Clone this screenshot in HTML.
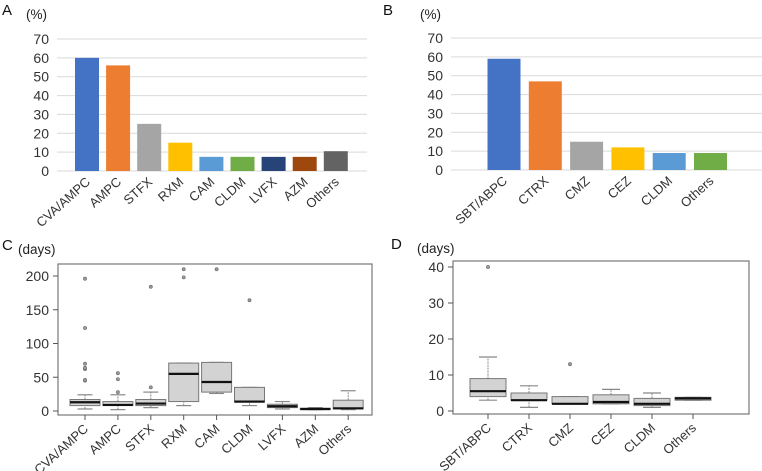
<!DOCTYPE html>
<html><head><meta charset="utf-8"><style>
html,body{margin:0;padding:0;background:#fff;}
svg{display:block;font-family:"Liberation Sans",Arial,sans-serif;}
</style></head><body>
<svg id="fig" width="762" height="471" viewBox="0 0 762 471" xmlns="http://www.w3.org/2000/svg"></svg>
<script>
// Panel A data
const catsA = ["CVA/AMPC","AMPC","STFX","RXM","CAM","CLDM","LVFX","AZM","Others"];
const valsA = [60,56,25,15,7.5,7.5,7.5,7.5,10.5];
const colorsA = ["#4472c4","#ed7d31","#a5a5a5","#ffc000","#5b9bd5","#70ad47","#264478","#9e480e","#636363"];
// Panel B data
const catsB = ["SBT/ABPC","CTRX","CMZ","CEZ","CLDM","Others"];
const valsB = [59,47,15,12,9,9];
const colorsB = ["#4472c4","#ed7d31","#a5a5a5","#ffc000","#5b9bd5","#70ad47"];
const ticksAB = [0,10,20,30,40,50,60,70];
// Panel C data: [whiskerLow, q1, median, q3, whiskerHigh]
const catsC = ["CVA/AMPC","AMPC","STFX","RXM","CAM","CLDM","LVFX","AZM","Others"];
const boxC = [[3,8,13,17,24],[2,8,9,14,24],[5,8,11,17,28],[8,14,55,71,71],[26,28,43,72,72],[8,13,14,35,35],[3,5,7,10,14],[2,2,3,4,5],[2,3,4,16,30]];
const outC = [[45,46,62,64,70,123,196],[28,47,56],[35,184],[198,210],[210],[164],[],[],[]];
const ticksC = [0,50,100,150,200];
// Panel D data
const catsD = ["SBT/ABPC","CTRX","CMZ","CEZ","CLDM","Others"];
const boxD = [[3,4,5.5,9,15],[1,3,3,5,7],[2,2,2,4,4],[2,2,2.5,4.5,6],[1,1.5,2,3.5,5],[3,3,3.5,3.8,3.8]];
const outD = [[40],[],[13],[],[],[]];
const ticksD = [0,10,20,30,40];

const NS="http://www.w3.org/2000/svg";
const svg=document.getElementById('fig');
function mk(tag,attrs,parent,text){const e=document.createElementNS(NS,tag);for(const k in attrs)e.setAttribute(k,attrs[k]);if(text!==undefined)e.textContent=text;(parent||svg).appendChild(e);return e;}

function panelLabel(x,y,letter,unit,ux){
  const t=mk('text',{x:x,y:y,'font-size':15,fill:'#111'},svg,letter);
  
  
  const u=mk('text',{x:ux,y:y+4,'font-size':13.5,fill:'#222'},svg,unit);
  
  
}

function barPanel(id,cats,vals,colors,x0,x1,y0,y1,c0,step,bw){
  const g=mk('g',{});
  
  
  const ys=v=>y0-(v/70)*(y0-y1);
  ticksAB.forEach(t=>{
    const l=mk('line',{x1:x0,x2:x1,y1:ys(t),y2:ys(t),stroke:'#d9d9d9','stroke-width':1},g);
    
    
    const tx=mk('text',{x:x0-8,y:ys(t)+5,'font-size':14,'text-anchor':'end',fill:'#333'},g,String(t));
    
    
  });
  cats.forEach((c,i)=>{
    const cx=c0+i*step;
    const r=mk('rect',{x:cx-bw/2,y:ys(vals[i]),width:bw,height:y0-ys(vals[i]),fill:colors[i]},g);
    
    
    const t=mk('text',{x:cx+4,y:y0+12,'font-size':13,'text-anchor':'end',fill:'#333',transform:`rotate(-42 ${cx+4} ${y0+12})`},g,c);
    
    
  });
}

function boxPanel(id,cats,box,outs,ticks,ymax,fx0,fx1,fy0,fy1,yz,ytop,c0,step,bw){
  const g=mk('g',{});
  
  
  const ys=v=>yz-(v/ymax)*(yz-ytop);
  const fr=mk('rect',{x:fx0,y:fy0,width:fx1-fx0,height:fy1-fy0,fill:'none',stroke:'#777','stroke-width':1.2},g);
  
  
  ticks.forEach(t=>{
    const l=mk('line',{x1:fx0-5,x2:fx0,y1:ys(t),y2:ys(t),stroke:'#555'},g);
    
    
    const tx=mk('text',{x:fx0-9,y:ys(t)+5,'font-size':14,'text-anchor':'end',fill:'#333'},g,String(t));
    
    
  });
  cats.forEach((c,i)=>{
    const cx=c0+i*step;const b=box[i];
    const tk=mk('line',{x1:cx,x2:cx,y1:fy1,y2:fy1+5,stroke:'#555'},g);
    
    
    const w1=mk('line',{x1:cx,x2:cx,y1:ys(b[0]),y2:ys(b[1]),stroke:'#888','stroke-dasharray':'2,1'},g);
    
    
    const w2=mk('line',{x1:cx,x2:cx,y1:ys(b[3]),y2:ys(b[4]),stroke:'#888','stroke-dasharray':'2,1'},g);
    
    
    [b[0],b[4]].forEach(v=>{
      const cap=mk('line',{x1:cx-bw/4,x2:cx+bw/4,y1:ys(v),y2:ys(v),stroke:'#888','stroke-width':1.2},g);
      
      
    });
    const r=mk('rect',{x:cx-bw/2,y:ys(b[3]),width:bw,height:Math.max(1,ys(b[1])-ys(b[3])),fill:'#d3d3d3',stroke:'#777','stroke-width':1},g);
    
    
    const m=mk('line',{x1:cx-bw/2,x2:cx+bw/2,y1:ys(b[2]),y2:ys(b[2]),stroke:'#111','stroke-width':2.2},g);
    
    
    outs[i].forEach(v=>{
      const o=mk('circle',{cx:cx,cy:ys(v),r:1.6,fill:'#999',stroke:'#666','stroke-width':0.6},g);
      
      
    });
    const ly=fy1+15;
    const t=mk('text',{x:cx+4,y:ly,'font-size':13,'text-anchor':'end',fill:'#333',transform:`rotate(-42 ${cx+4} ${ly})`},g,c);
    
    
  });
}

panelLabel(2,15,'A','(%)',26);
panelLabel(383,15,'B','(%)',420);
panelLabel(2,250,'C','(days)',18);
panelLabel(391,249,'D','(days)',417);

barPanel('a',catsA,valsA,colorsA,57,367,171,39,87,31.1,24);
barPanel('b',catsB,valsB,colorsB,451,762,170,38,504,41.3,33);
boxPanel('c',catsC,boxC,outC,ticksC,200,58,372,264,415,411,276,85,32.9,30);
boxPanel('d',catsD,boxD,outD,ticksD,40,453,749,261,414,411,267,488,41,36);
</script>
</body></html>
